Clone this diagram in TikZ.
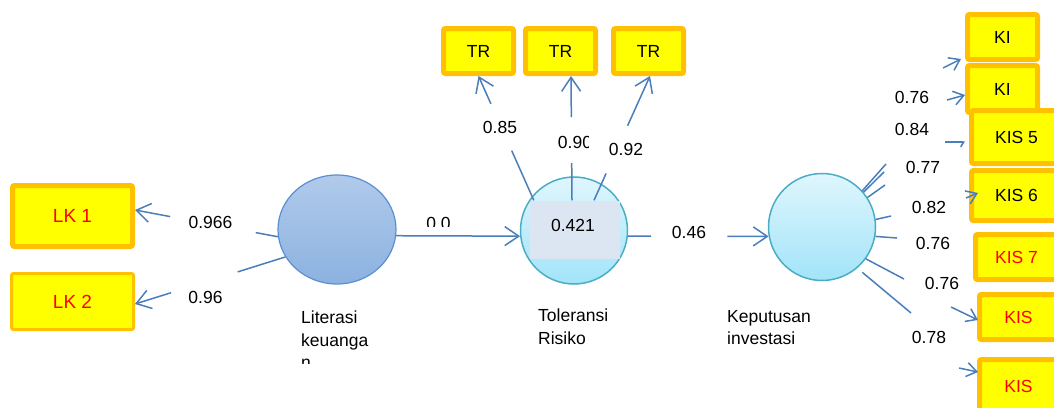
\documentclass[tikz,border=0pt]{standalone}
\usepackage{fontspec}
\setmainfont{Liberation Sans}
\usetikzlibrary{shapes.geometric,arrows.meta,calc}
\definecolor{boxor}{HTML}{FFC000}
\definecolor{boxye}{HTML}{FFFF00}
\definecolor{lineblue}{HTML}{4A7EBB}
\definecolor{littop}{HTML}{B0CAEA}
\definecolor{litbot}{HTML}{8CB2E1}
\definecolor{litedge}{HTML}{5B8FD2}
\definecolor{cytop}{HTML}{DFF6FD}
\definecolor{cybot}{HTML}{A2E4F9}
\definecolor{cyedge}{HTML}{4BACC6}
\definecolor{valfill}{HTML}{DCE6F2}
\newcommand\fs{\fontsize{17.5}{22.5}\selectfont}
\newcommand\fsl{\fontsize{19}{22.5}\selectfont}
\begin{document}
\begin{tikzpicture}[x=1pt,y=-1pt,
  ind/.style={draw=boxor, fill=boxye, line width=5pt, rounded corners=2pt, inner sep=0pt, font=\fs},
  redt/.style={text=red},
  conn/.style={draw=lineblue, line width=1.5pt},
  arr/.style={conn, -{Straight Barb[length=14pt,width=19pt]}},
  sarr/.style={conn, -{Straight Barb[length=10pt,width=14pt]}},
  lbl/.style={font=\fs, inner sep=0pt},
  captxt/.style={font=\fs, inner sep=0pt, align=left, anchor=north west},
  cyc/.style={circle, draw=cyedge, line width=1.5pt, top color=cytop, bottom color=cybot, minimum size=107pt, inner sep=0pt},
]
\useasboundingbox (0,0) rectangle (1054,407);
\fill[white] (0,0) rectangle (1054,407);
\clip (0,0) rectangle (1054,407);

% indicator boxes
\node[ind, redt, font=\fsl, minimum width=120pt, minimum height=61pt] (lk1) at (72.5,216) {LK 1};
\node[ind, redt, font=\fsl, line width=3pt, minimum width=122pt, minimum height=56pt] (lk2) at (72.5,301.5) {LK 2};
\node[ind, minimum width=70pt, minimum height=45pt] (tr1) at (478.5,51) {TR};
\node[ind, minimum width=70pt, minimum height=45pt] (tr2) at (560.5,51) {TR};
\node[ind, minimum width=70pt, minimum height=45pt] (tr3) at (648.5,51) {TR};
\node[ind, minimum width=70pt, minimum height=45pt] (ki1) at (1002.5,37) {KI};
\node[ind, minimum width=70pt, minimum height=47pt] (ki2) at (1002.5,89) {KI};
\node[ind, minimum width=90pt, minimum height=53pt] (kis5) at (1016.5,137) {KIS 5};
\node[ind, minimum width=90pt, minimum height=50pt] (kis6) at (1016.5,195.5) {KIS 6};
\node[ind, redt, minimum width=82pt, minimum height=45pt] (kis7) at (1016.5,257) {KIS 7};
\node[ind, redt, minimum width=78pt, minimum height=45pt] (kisa) at (1018.5,317) {KIS};
\node[ind, redt, minimum width=78pt, minimum height=53pt] (kisb) at (1018.5,386) {KIS};

% latent variables
\node[ellipse, draw=litedge, line width=1.2pt, top color=littop, bottom color=litbot,
      minimum width=118pt, minimum height=109pt, inner sep=0pt] (lit) at (337,229.5) {};
\node[cyc] (tol) at (574,230.5) {};
\node[cyc] (kep) at (822,227) {};
\node[fill=valfill, minimum width=90pt, minimum height=58pt, inner sep=0pt] (tolval) at (575,229.5) {};
\node[lbl] (tolr2) at (573,225) {0.421};

% captions
\begin{scope}
  \clip (280,290) rectangle (420,363);
  \node[captxt] (litcap) at (301,311) {Literasi\\keuanga\\n};
\end{scope}
\node[captxt] (tolcap) at (538,309) {Toleransi\\Risiko};
\node[captxt] (kepcap) at (727,310) {Keputusan\\investasi};

% loading labels
\node[lbl] (l1) at (210.5,222) {0.966};
\node[lbl] (l2) at (205.5,297) {0.96};
\begin{scope}
  \clip (400,200) rectangle (470,226);
  \node[lbl] (l3) at (438.5,223) {0.0};
\end{scope}
\node[lbl] (l4) at (500,127) {0.85};
\begin{scope}
  \clip (540,120) rectangle (588,165);
  \node[lbl] (l5) at (575,142) {0.90};
\end{scope}
\node[lbl] (l6) at (626,149) {0.92};
\node[lbl] (l7) at (689,232) {0.46};
\node[lbl] (r1) at (912,97) {0.76};
\node[lbl] (r2) at (912,129) {0.84};
\node[lbl] (r3) at (923,167) {0.77};
\node[lbl] (r4) at (929,207) {0.82};
\node[lbl] (r5) at (933,243) {0.76};
\node[lbl] (r6) at (942,283) {0.76};
\node[lbl] (r7) at (929,337) {0.78};

% Literasi -> LK
\coordinate (lk1t) at ([yshift=6pt]lk1.east);
\draw[conn] (lit.187) -- ($(lit.187)!0.155!(lk1t)$);
\draw[arr] ($(lit.187)!0.754!(lk1t)$) -- (lk1t);
\coordinate (lk2t) at ([yshift=-2.5pt]lk2.east);
\draw[conn] (lit.208) -- ($(lit.208)!0.317!(lk2t)$);
\draw[arr] ($(lit.208)!0.76!(lk2t)$) -- (lk2t);

% Literasi -> Toleransi
\draw[arr] (lit.-6) -- (tol.186);

% Toleransi -> TR
\coordinate (t1s) at ([xshift=4pt]tolval.north west);
\coordinate (t1e) at (tr1.south);
\draw[conn] (t1s) -- ($(t1s)!0.4!(t1e)$);
\draw[arr] ($(t1s)!0.776!(t1e)$) -- (t1e);
\coordinate (t2s) at ([xshift=-3pt]tolval.north);
\coordinate (t2e) at ([xshift=10.5pt]tr2.south);
\draw[conn] (t2s) -- ($(t2s)!0.30!(t2e)$);
\draw[arr] ($(t2s)!0.67!(t2e)$) -- (t2e);
\coordinate (t3s) at ([xshift=19pt]tolval.north);
\coordinate (t3e) at ([xshift=1.5pt]tr3.south);
\draw[conn] (t3s) -- ($(t3s)!0.216!(t3e)$);
\draw[arr] ($(t3s)!0.6!(t3e)$) -- (t3e);

% Toleransi -> Keputusan
\draw[conn] (tol.-6) -- ($(tol.-6)!0.164!(kep.190)$);
\draw[arr] ($(tol.-6)!0.707!(kep.190)$) -- (kep.190);

% Keputusan -> indicators (stubs)
\coordinate (s1) at (886,164); \draw[conn] (kep.42) -- (s1);
\coordinate (s2) at (884,172); \draw[conn] (kep.40) -- (s2);
\coordinate (s3) at (885,185); \draw[conn] (kep.33) -- (s3);
\coordinate (s4) at (891,216); \draw[conn] (kep.8) -- (s4);
\coordinate (s5) at (897,238); \draw[conn] (kep.-10) -- (s5);
\coordinate (s6) at (904,279); \draw[conn] (kep.-36) -- (s6);
\coordinate (s7) at (911,313); \draw[conn] ([shift={(4pt,-5pt)}]kep.-48) -- (s7);

% outer arrows
\coordinate (o1) at (943,68); \draw[sarr] (o1) -- ([shift={(-4pt,-22pt)}]ki1.west);
\coordinate (o2) at (947,100); \draw[sarr] (o2) -- ([yshift=-6pt]ki2.west);
\coordinate (o3) at (945,142); \draw[conn,-{Straight Barb[right,length=3pt,width=10pt]}] (o3) -- ([shift={(-4pt,-5pt)}]kis5.west);
\coordinate (o4) at (966,198); \draw[sarr] (o4) -- ([shift={(9pt,2.5pt)}]kis6.west);
\coordinate (o6) at (951,307); \draw[sarr] (o6) -- ([shift={(1pt,-3pt)}]kisa.west);
\coordinate (o7) at (959,368); \draw[sarr] (o7) -- ([shift={(1pt,14pt)}]kisb.west);
\end{tikzpicture}
\end{document}
